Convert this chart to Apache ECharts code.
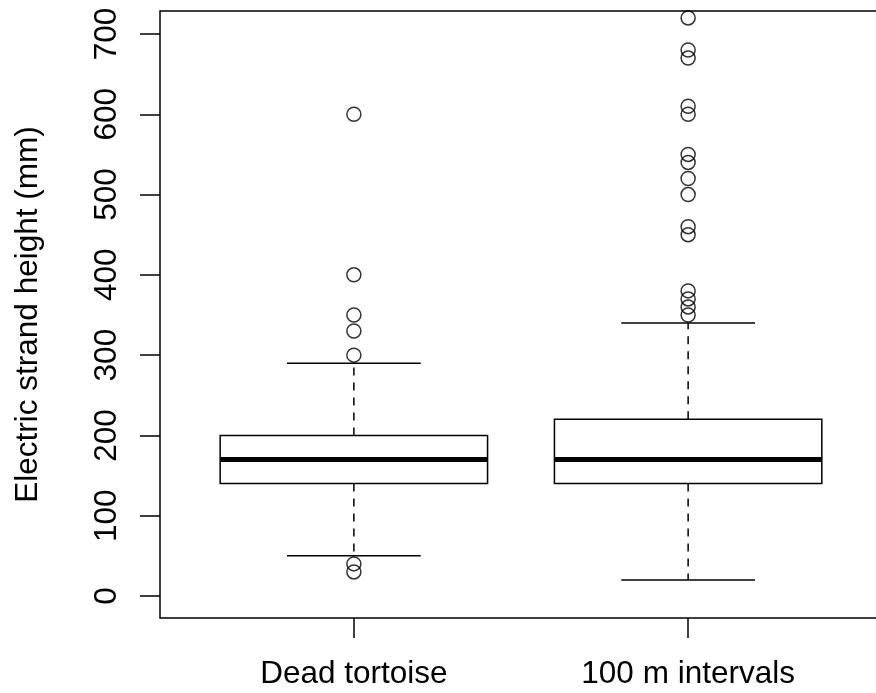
<!DOCTYPE html>
<html>
<head>
<meta charset="utf-8">
<script src="https://cdn.jsdelivr.net/npm/echarts@6/dist/echarts.min.js"></script>
<style>
  html, body { margin: 0; padding: 0; background: #fff; }
  #chart { width: 876px; height: 693px; }
</style>
</head>
<body>
<div id="chart"></div>
<script>
// groups and box statistics
const categories = ['Dead tortoise', '100 m intervals'];
const positions = [1, 2];
const lowerWhisker = [50, 20];
const lowerQuartile = [140, 140];
const medians = [170, 170];
const upperQuartile = [200, 220];
const upperWhisker = [290, 340];

// outliers per group
const outliersDead = [600, 400, 350, 330, 300, 40, 30];
const outliersIntervals = [720, 680, 670, 610, 600, 550, 540, 520, 500, 460, 450, 380, 370, 360, 350];

const yTicks = [0, 100, 200, 300, 400, 500, 600, 700];

const boxData = positions.map((p, i) => [
  p, lowerWhisker[i], lowerQuartile[i], medians[i], upperQuartile[i], upperWhisker[i]
]);
const outlierData = []
  .concat(outliersDead.map(v => [positions[0], v]))
  .concat(outliersIntervals.map(v => [positions[1], v]));

const font = "'Liberation Sans', Arial, Helvetica, sans-serif";
const BOX_HALF = 0.4;
const CAP_HALF = 0.2;

// draws one R-style box: box, thick median, dashed whiskers, solid caps
function renderBox(params, api) {
  const x = api.value(0);
  const lo = api.value(1), q1 = api.value(2), med = api.value(3), q3 = api.value(4), hi = api.value(5);
  const pt = (xx, yy) => api.coord([xx, yy]);
  const thin = { stroke: '#000', lineWidth: 1.5, fill: null };
  const dashed = { stroke: '#000', lineWidth: 1.5, lineDash: [8, 7] };

  const bl = pt(x - BOX_HALF, q3), br = pt(x + BOX_HALF, q1);
  const children = [
    { type: 'line', shape: { x1: pt(x, q3)[0], y1: pt(x, q3)[1], x2: pt(x, hi)[0], y2: pt(x, hi)[1] }, style: dashed },
    { type: 'line', shape: { x1: pt(x, q1)[0], y1: pt(x, q1)[1], x2: pt(x, lo)[0], y2: pt(x, lo)[1] }, style: dashed },
    { type: 'line', shape: { x1: pt(x - CAP_HALF, hi)[0], y1: pt(x, hi)[1], x2: pt(x + CAP_HALF, hi)[0], y2: pt(x, hi)[1] }, style: thin },
    { type: 'line', shape: { x1: pt(x - CAP_HALF, lo)[0], y1: pt(x, lo)[1], x2: pt(x + CAP_HALF, lo)[0], y2: pt(x, lo)[1] }, style: thin },
    { type: 'rect', shape: { x: bl[0], y: bl[1], width: br[0] - bl[0], height: br[1] - bl[1] }, style: { stroke: '#000', lineWidth: 1.5, fill: '#fff' } },
    { type: 'line', shape: { x1: bl[0], y1: pt(x, med)[1], x2: br[0], y2: pt(x, med)[1] }, style: { stroke: '#000', lineWidth: 5 } }
  ];
  return { type: 'group', children: children };
}

const chart = echarts.init(document.getElementById('chart'));

chart.setOption({
  animation: false,
  backgroundColor: '#fff',
  grid: {
    left: 160,
    top: 11,
    width: 722,
    height: 607,
    outerBoundsMode: 'none',
    containLabel: false,
    show: true,
    borderColor: '#000',
    borderWidth: 1.5,
    backgroundColor: 'transparent'
  },
  xAxis: {
    type: 'value',
    min: 0.42,
    max: 2.58,
    axisLine: { show: false, onZero: false },
    splitLine: { show: false },
    axisTick: {
      show: true,
      customValues: positions,
      length: 20,
      lineStyle: { color: '#000', width: 1.5 }
    },
    axisLabel: {
      customValues: positions,
      margin: 40,
      fontSize: 31.5,
      fontFamily: font,
      color: '#000',
      formatter: v => categories[positions.indexOf(v)] || ''
    }
  },
  yAxis: {
    type: 'value',
    min: -27.4,
    max: 728.6,
    name: 'Electric strand height (mm)',
    nameLocation: 'middle',
    nameGap: 116,
    nameTextStyle: { fontSize: 31.5, fontFamily: font, color: '#000' },
    axisLine: { show: false, onZero: false },
    splitLine: { show: false },
    axisTick: {
      show: true,
      customValues: yTicks,
      length: 20,
      lineStyle: { color: '#000', width: 1.5 }
    },
    axisLabel: {
      customValues: yTicks,
      rotate: 90,
      margin: 37,
      fontSize: 31.5,
      fontFamily: font,
      color: '#000'
    }
  },
  series: [
    {
      type: 'custom',
      renderItem: renderBox,
      data: boxData,
      encode: { x: 0, y: [1, 2, 3, 4, 5] },
      z: 2
    },
    {
      type: 'scatter',
      data: outlierData,
      symbol: 'circle',
      symbolSize: 14,
      itemStyle: { color: 'transparent', borderColor: '#000', borderWidth: 1.5 },
      z: 3
    }
  ]
});
</script>
</body>
</html>
